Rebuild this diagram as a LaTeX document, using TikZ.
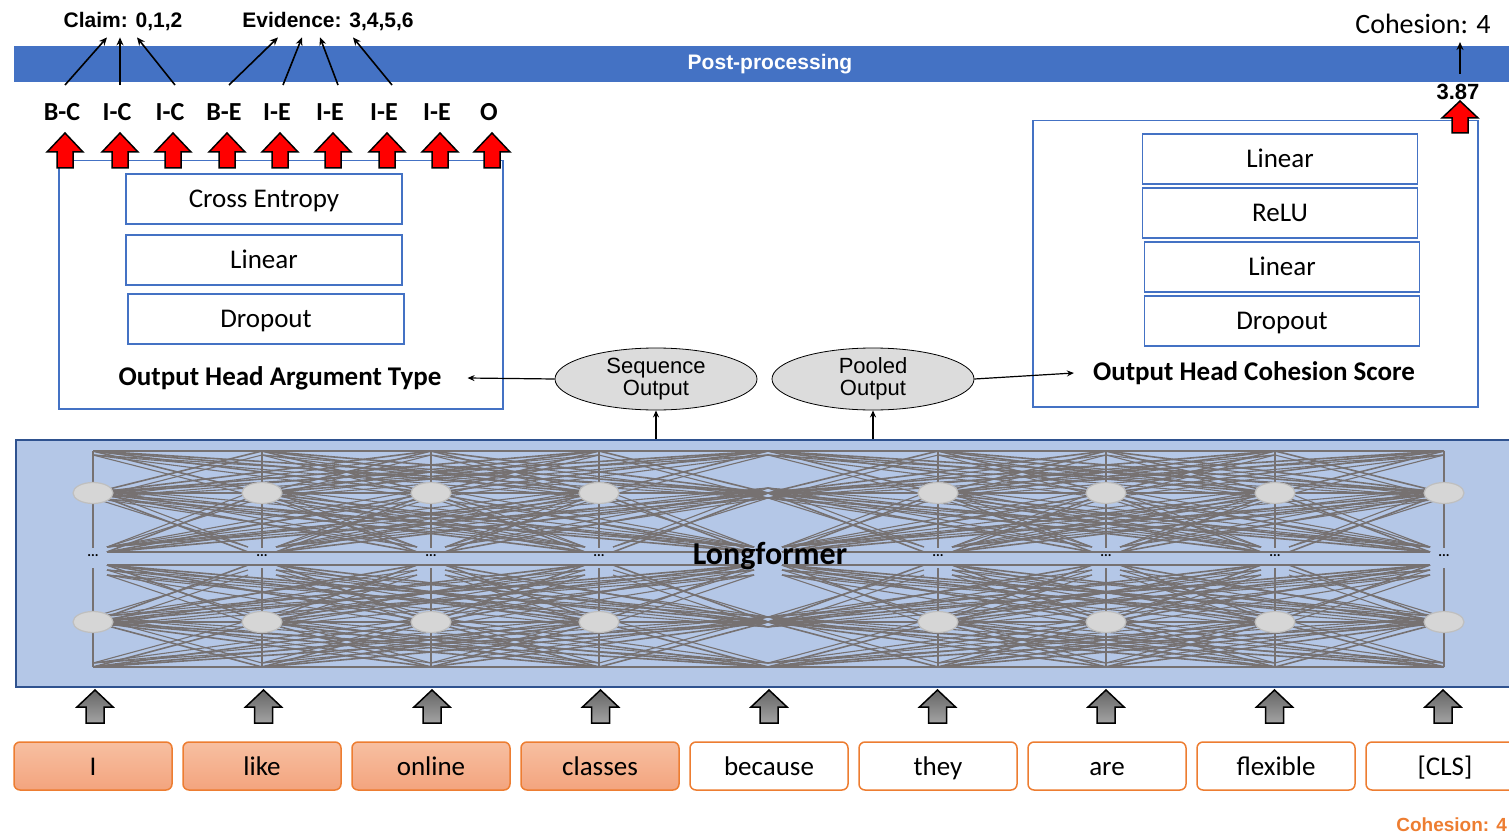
\documentclass[tikz,border=0pt]{standalone}
\usepackage{fontspec}
\setmainfont{Carlito}
\newfontfamily\arialf{Liberation Sans}
\usetikzlibrary{arrows.meta,shapes.geometric,calc}
\newcommand{\fsz}[1]{\fontsize{#1}{#1}\selectfont}
% #1 style, #2 x, #3 tip y, #4 head base y, #5 bottom y, #6 head half width, #7 shaft half width
\newcommand{\blockarr}[7]{%
  \path[#1] (#2,#3) -- ({#2+#6},#4) -- ({#2+#7},#4) -- ({#2+#7},#5) -- ({#2-#7},#5) -- ({#2-#7},#4) -- ({#2-#6},#4) -- cycle;}
\definecolor{barblue}{HTML}{4472C4}
\definecolor{boxblue}{HTML}{4472C4}
\definecolor{lfblue}{HTML}{B4C7E7}
\definecolor{lfborder}{HTML}{2F528F}
\definecolor{tokorange}{HTML}{ED7D31}
\definecolor{netgray}{HTML}{767171}
\definecolor{neufill}{HTML}{D6D6D6}
\definecolor{neudraw}{HTML}{BFBFBF}
\definecolor{ellfill}{HTML}{DCDCDC}
\definecolor{tokA}{HTML}{F7BFA1}
\definecolor{tokB}{HTML}{F3A47E}
\definecolor{arrA}{HTML}{656565}
\definecolor{arrB}{HTML}{A3A3A3}
\begin{document}
\begin{tikzpicture}[x=1pt,y=-1pt,
  innerbox/.style={draw=boxblue,line width=1.2pt,minimum width=276pt,minimum height=50pt,inner sep=0pt,font=\fsz{27},text height=21pt,text depth=4pt},
  headbox/.style={draw=boxblue,line width=1.5pt,inner sep=0pt,anchor=north west},
  headtitle/.style={font=\fsz{27}\bfseries,inner sep=2pt},
  token/.style={draw=tokorange,line width=1.5pt,rounded corners=6pt,minimum width=158pt,minimum height=48pt,inner sep=0pt,font=\fsz{27},text height=22pt,text depth=3pt},
  tokfill/.style={token,top color=tokA,bottom color=tokB},
  lab/.style={font=\fsz{26}\bfseries,text height=20pt,text depth=0pt,inner sep=0pt,anchor=north},
  toplab/.style={font=\arialf\bfseries\fsz{21},inner sep=0pt},
  arr/.style={-{Stealth[length=8pt,width=7pt]},line width=1.6pt},
  thinarr/.style={-{Stealth[length=7pt,width=6pt]},line width=1.2pt},
  net/.style={draw=netgray,line width=1.6pt},
  net2/.style={draw=netgray,line width=1.1pt},
  neuron/.style={ellipse,draw=neudraw,fill=neufill,line width=1.2pt,minimum width=40pt,minimum height=21pt,inner sep=0pt},
  outell/.style={ellipse,draw=black,line width=0.8pt,fill=ellfill,minimum width=202pt,minimum height=62pt,inner sep=0pt,font=\arialf\fsz{22},align=center},
  redarr/.style={draw=black,line width=1.5pt,fill=red},
  grayarr/.style={draw=black,line width=1.5pt,top color=arrA,bottom color=arrB}
]
\useasboundingbox (0,0) rectangle (1509,837);

% post-processing bar
\node (post) [fill=barblue,minimum width=1500pt,minimum height=36pt,inner sep=0pt,anchor=north west] at (14,46) {};
\node (posttext) [font=\arialf\bfseries\fsz{21},text=white] at (770,64) {Post-processing};

% top labels
\node (claim) [toplab] at (123,22) {Claim: 0,1,2};
\node (evid) [toplab] at (328,22) {Evidence: 3,4,5,6};
\node (cohtop) [font=\fsz{28},inner sep=2pt] at (1423,24) {Cohesion: 4};

% BIO labels
\foreach \x/\t [count=\k] in {62/B-C,117/I-C,170/I-C,224/B-E,277/I-E,330/I-E,384/I-E,437/I-E,489/O}{
  \node (l\k) [lab] at (\x,100) {\t};
}

\draw[arr] ([xshift=3pt,yshift=15pt]l1.north) -- ([xshift=-16pt,yshift=-6pt]claim.south);
\draw[arr] ([xshift=3pt,yshift=15pt]l2.north) -- ([xshift=-3pt,yshift=-6pt]claim.south);
\draw[arr] ([xshift=5pt,yshift=15pt]l3.north) -- ([xshift=14pt,yshift=-6pt]claim.south);
\draw[arr] ([xshift=5pt,yshift=15pt]l4.north) -- ([xshift=-50pt,yshift=-6pt]evid.south);
\draw[arr] ([xshift=6pt,yshift=15pt]l5.north) -- ([xshift=-26pt,yshift=-6pt]evid.south);
\draw[arr] ([xshift=8pt,yshift=15pt]l6.north) -- ([xshift=-8pt,yshift=-6pt]evid.south);
\draw[arr] ([xshift=8pt,yshift=15pt]l7.north) -- ([xshift=25pt,yshift=-6pt]evid.south);

% left output head
\node (lhead) [headbox,minimum width=444pt,minimum height=248pt] at (58,160) {};
\node (ce) [innerbox] at (264,199) {Cross Entropy};
\node (lin1) [innerbox] at (264,260) {Linear};
\node (drop1) [innerbox] at (266,319) {Dropout};
\node (lt) [headtitle] at (280,378) {Output Head Argument Type};
\foreach \x in {65,120,173,227,280,333,387,440,492}{
  \blockarr{redarr}{\x}{133}{152}{168}{18}{8}
}

% right output head
\node (rhead) [headbox,minimum width=445pt,minimum height=286pt] at (1032,120) {};
\node (rlin1) [innerbox,minimum width=275pt] at (1280,159) {Linear};
\node (relu) [innerbox,minimum width=275pt] at (1280,213) {ReLU};
\node (rlin2) [innerbox,minimum width=275pt] at (1282,267) {Linear};
\node (rdrop) [innerbox,minimum width=275pt] at (1282,321) {Dropout};
\node (rt) [headtitle] at (1254,373) {Output Head Cohesion Score};
\blockarr{redarr}{1460}{101}{118}{133}{18}{8}
\node (v387) [font=\arialf\bfseries\fsz{22},inner sep=0pt] at (1458,92) {3.87};
\draw[arr] ([xshift=2pt,yshift=10pt]v387.north) -- ([xshift=2pt,yshift=-6pt]v387.north |- cohtop.south);

% Longformer
\node (lf) [fill=lfblue,draw=lfborder,line width=2pt,anchor=north west,minimum width=1510pt,minimum height=247pt,inner sep=0pt] at (15,439) {};
\def\colx{{93,262,431,599,768,938,1106,1275,1444}}
\foreach \h in {0,4}{
  \foreach \a in {0,...,3}{
    \pgfmathtruncatemacro{\bst}{\a+1}
    \foreach \b in {\bst,...,4}{
      \pgfmathsetmacro{\xa}{\colx[\h+\a]}
      \pgfmathsetmacro{\xb}{\colx[\h+\b]}
      \foreach \ya/\yb/\oa/\ob in {451/451/0/0,451/493/0/0,493/451/0/0,493/493/0/0,493/552/0/-14,552/493/14/0,552/552/14/-14,565/565/14/-14,565/622/14/0,622/565/0/-14,622/622/0/0,622/667/0/0,667/622/0/0,667/667/0/0}{
        \draw[net] ({\xa+\oa},\ya) -- ({\xb+\ob},\yb);
      }
      \foreach \ya/\yb/\oa/\ob in {455/498/0/0,498/455/0/0,488/547/0/-14,547/488/14/0,498/547/0/-14,547/498/14/0,570/617/14/0,617/570/0/-14,575/627/14/0,627/575/0/-14,617/663/0/0,663/617/0/0}{
        \draw[net2] ({\xa+\oa},\ya) -- ({\xb+\ob},\yb);
      }
    }
  }
}
\foreach \x [count=\k] in {93,262,431,599,938,1106,1275,1444}{
  \draw[net] (\x,451) -- (\x,548);
  \draw[net] (\x,568) -- (\x,667);
  \node (na\k) [neuron] at (\x,493) {};
  \node (nb\k) [neuron] at (\x,622) {};
  \node (nd\k) [font=\fsz{14}\bfseries,inner sep=0pt] at (\x,556) {...};
}
\node (lftext) [font=\fsz{32}\bfseries] at (770,556) {Longformer};

% sequence / pooled outputs
\node (seq) [outell] at (656,379) {Sequence\\Output};
\node (pool) [outell] at (873,379) {Pooled\\Output};
\draw[thinarr] (lf.north -| seq.south) -- (seq.south);
\draw[thinarr] (lf.north -| pool.south) -- (pool.south);
\draw[thinarr] (seq.west) -- ([xshift=24pt]lt.east);
\draw[thinarr] (pool.east) -- ([xshift=-17pt]rt.west);

% tokens
\foreach \t [count=\k from 0] in {I,like,online,classes}{
  \node (t\k) [tokfill] at ({93+169*\k},766) {\t};
}
\foreach \t [count=\k from 4] in {because,they,are,flexible,[CLS]}{
  \node (t\k) [token,fill=white] at ({93+169*\k},766) {\t};
}
\foreach \k in {0,...,8}{
  \pgfmathsetmacro{\ax}{95+168.5*\k}
  \blockarr{grayarr}{\ax}{690}{707}{723}{18}{9}
}

\node (cohbot) [font=\arialf\bfseries\fsz{19},text=tokorange,anchor=east,inner sep=0pt] at (1507,825) {Cohesion: 4};
\end{tikzpicture}
\end{document}
